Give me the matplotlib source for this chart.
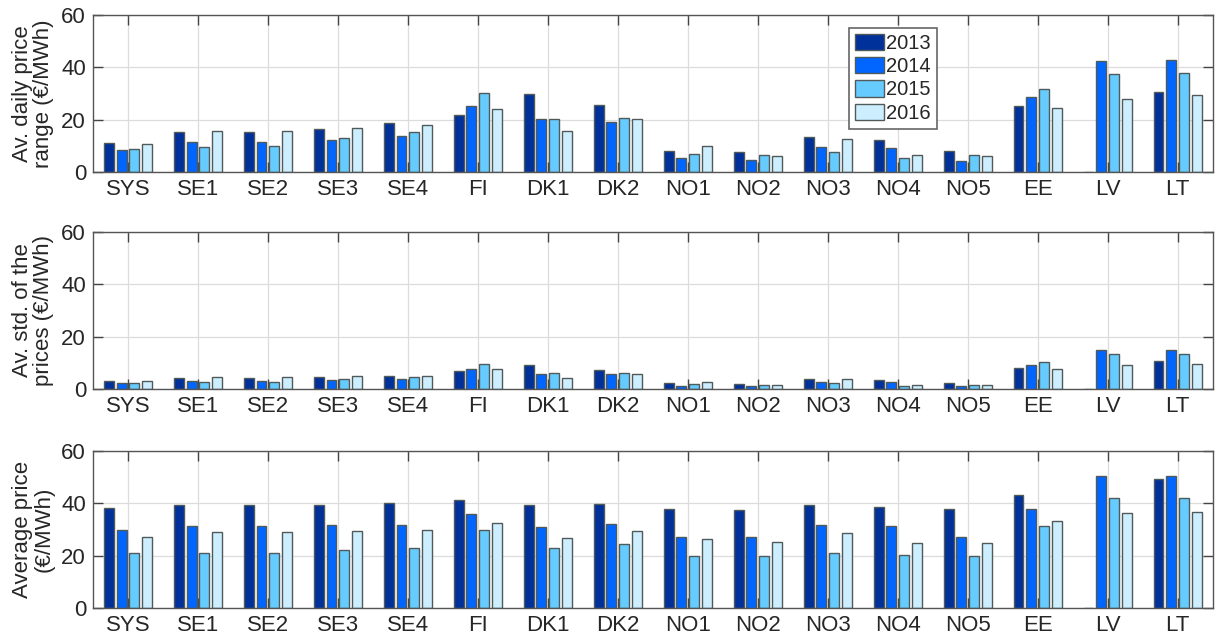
import numpy as np
import matplotlib
matplotlib.use("Agg")
import matplotlib.pyplot as plt
from matplotlib.patches import Patch

plt.rcParams['font.family'] = ['Liberation Sans', 'DejaVu Sans']

areas = ["SYS", "SE1", "SE2", "SE3", "SE4", "FI", "DK1", "DK2",
         "NO1", "NO2", "NO3", "NO4", "NO5", "EE", "LV", "LT"]
years = ["2013", "2014", "2015", "2016"]

# Average daily price range (EUR/MWh), one list per year
range_2013 = [10.9, 15.2, 15.2, 16.4, 18.7, 21.8, 29.9, 25.5, 8.2, 7.5, 13.3, 12.3, 7.9, 25.3, 0.0, 30.6]
range_2014 = [8.6, 11.3, 11.3, 12.4, 13.6, 25.3, 20.4, 19.3, 5.4, 4.7, 9.5, 9.1, 4.1, 28.5, 42.4, 42.7]
range_2015 = [8.8, 9.5, 9.8, 12.9, 15.2, 30.1, 20.1, 20.7, 6.8, 6.5, 7.7, 5.4, 6.5, 31.9, 37.5, 37.8]
range_2016 = [10.6, 15.6, 15.6, 16.7, 17.8, 23.9, 15.7, 20.2, 10.0, 6.3, 12.6, 6.5, 6.0, 24.5, 28.0, 29.4]

# Average standard deviation of the prices (EUR/MWh)
std_2013 = [3.2, 4.2, 4.2, 4.6, 5.1, 6.7, 9.2, 7.2, 2.2, 1.9, 3.7, 3.5, 2.2, 8.1, 0.0, 10.6]
std_2014 = [2.4, 3.2, 3.2, 3.5, 4.0, 7.6, 5.6, 5.6, 1.3, 1.0, 2.6, 2.6, 1.0, 9.0, 15.0, 15.0]
std_2015 = [2.4, 2.8, 2.8, 3.8, 4.6, 9.7, 6.0, 6.3, 1.9, 1.5, 2.2, 1.3, 1.5, 10.5, 13.3, 13.3]
std_2016 = [3.2, 4.6, 4.6, 5.0, 5.1, 7.6, 4.2, 5.8, 2.8, 1.5, 3.7, 1.5, 1.5, 7.6, 9.2, 9.6]

# Average price (EUR/MWh)
avg_2013 = [38.3, 39.2, 39.2, 39.5, 40.1, 41.3, 39.2, 39.9, 37.8, 37.4, 39.2, 38.6, 37.8, 43.3, 0.0, 49.2]
avg_2014 = [29.7, 31.4, 31.4, 31.7, 31.9, 36.0, 30.8, 32.2, 27.3, 27.3, 31.7, 31.4, 27.3, 37.8, 50.3, 50.3]
avg_2015 = [20.9, 21.2, 21.2, 22.1, 22.9, 29.7, 22.9, 24.5, 19.7, 19.7, 21.2, 20.3, 19.7, 31.2, 42.1, 42.1]
avg_2016 = [27.1, 29.1, 29.1, 29.4, 29.7, 32.6, 26.8, 29.4, 26.2, 25.3, 28.7, 25.0, 25.0, 33.2, 36.4, 36.7]

panels = [
    ("Av. daily price\nrange (€/MWh)", [range_2013, range_2014, range_2015, range_2016]),
    ("Av. std. of the\nprices (€/MWh)", [std_2013, std_2014, std_2015, std_2016]),
    ("Average price\n(€/MWh)", [avg_2013, avg_2014, avg_2015, avg_2016]),
]

colors = ["#00309a", "#0066ff", "#66ccff", "#cceeff"]
edge = "#505a5a"
txt = "#262626"

fig = plt.figure(figsize=(12.15, 6.39), dpi=100)
left, width = 0.0765, 0.9215
bottoms = [0.7308, 0.3912, 0.0485]
height = 0.2457

x = np.arange(1, len(areas) + 1)
pitch = 0.182
bw = 0.142
offsets = (np.arange(4) - 1.5) * pitch

for (ylabel, series), b in zip(panels, bottoms):
    ax = fig.add_axes([left, b, width, height])
    ax.set_axisbelow(True)
    for i, vals in enumerate(series):
        ax.bar(x + offsets[i], vals, width=bw, color=colors[i],
               edgecolor=edge, linewidth=1.0, label=years[i], zorder=2)
    ax.set_xlim(0.5, 16.5)
    ax.set_ylim(0, 60)
    ax.set_yticks([0, 20, 40, 60])
    ax.set_xticks(x)
    ax.set_xticklabels(areas)
    ax.grid(True, color="#dcdcdc", linewidth=0.9)
    ax.tick_params(direction="in", top=True, right=True, length=7,
                   width=1.0, color="#444444", labelsize=16,
                   labelcolor=txt)
    ax.tick_params(axis="x", pad=5)
    ax.tick_params(axis="y", pad=5)
    for s in ax.spines.values():
        s.set_color("#555555")
        s.set_linewidth(1.0)
    ax.set_ylabel(ylabel, fontsize=16, color=txt, linespacing=1.0, labelpad=5)
    if b == bottoms[0]:
        handles = [Patch(facecolor=c, edgecolor=edge, linewidth=1.0) for c in colors]
        leg = ax.legend(handles, years, loc="upper left", bbox_to_anchor=(0.675, 0.92),
                        fontsize=14.5, frameon=True, fancybox=False, edgecolor="#666666",
                        handlelength=1.45, handleheight=0.85, handletextpad=0.1,
                        labelspacing=0.22, borderpad=0.3, borderaxespad=0.0,
                        labelcolor=txt, framealpha=1.0)
        leg.get_frame().set_linewidth(1.2)

fig.savefig("out.png", dpi=100)
